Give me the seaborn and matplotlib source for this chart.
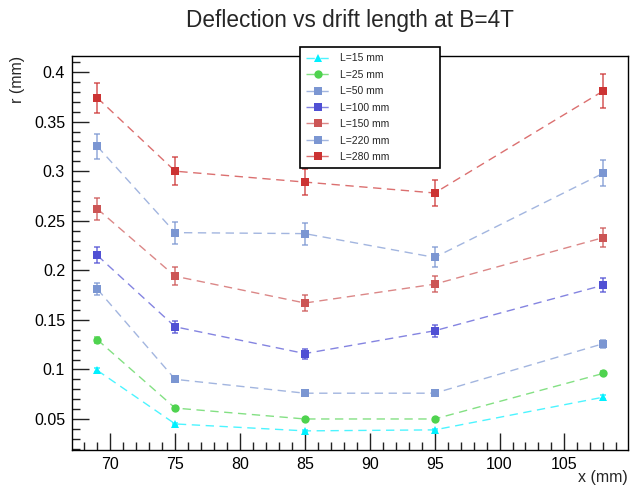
import numpy as np
import pandas as pd
import matplotlib
matplotlib.use("Agg")
import matplotlib.pyplot as plt
from matplotlib.ticker import MultipleLocator, FuncFormatter
import seaborn as sns

# Drift positions (mm)
x_pos = [69, 75, 85, 95, 108]

# Series labels
labels = ["L=15 mm", "L=25 mm", "L=50 mm", "L=100 mm", "L=150 mm", "L=220 mm", "L=280 mm"]

# Deflection r (mm) for each drift length
r_L15 = [0.099, 0.045, 0.038, 0.039, 0.072]
r_L25 = [0.130, 0.061, 0.050, 0.050, 0.096]
r_L50 = [0.181, 0.090, 0.076, 0.076, 0.126]
r_L100 = [0.215, 0.143, 0.116, 0.139, 0.185]
r_L150 = [0.262, 0.194, 0.167, 0.186, 0.233]
r_L220 = [0.325, 0.238, 0.237, 0.213, 0.298]
r_L280 = [0.374, 0.300, 0.289, 0.278, 0.381]

# Uncertainties on r (mm)
e_L15 = [0.002, 0.001, 0.001, 0.001, 0.002]
e_L25 = [0.003, 0.002, 0.001, 0.001, 0.002]
e_L50 = [0.006, 0.003, 0.002, 0.002, 0.004]
e_L100 = [0.008, 0.006, 0.005, 0.006, 0.007]
e_L150 = [0.011, 0.009, 0.008, 0.008, 0.010]
e_L220 = [0.013, 0.011, 0.011, 0.010, 0.013]
e_L280 = [0.015, 0.014, 0.013, 0.013, 0.017]

values = [r_L15, r_L25, r_L50, r_L100, r_L150, r_L220, r_L280]
errors = [e_L15, e_L25, e_L50, e_L100, e_L150, e_L220, e_L280]

colors = ["#00f0ff", "#4fd34f", "#7b96d2", "#5050d4", "#cc5555", "#7b96d2", "#cc3333"]
markers = ["^", "o", "s", "s", "s", "s", "s"]

rows = []
for lab, vals, errs in zip(labels, values, errors):
    for xv, yv, ev in zip(x_pos, vals, errs):
        rows.append({"x": xv, "r": yv, "err": ev, "series": lab})
df = pd.DataFrame(rows)

sns.set_style("white")
plt.rcParams["font.family"] = ["Liberation Sans", "DejaVu Sans"]

fig = plt.figure(figsize=(6.3, 4.86), dpi=100)
ax = fig.add_axes([72 / 630, 36 / 486, 556 / 630, 394 / 486])

palette = dict(zip(labels, colors))
mk = dict(zip(labels, markers))

for lab in labels:
    sub = df[df["series"] == lab]
    c = palette[lab]
    ax.errorbar(sub["x"], sub["r"], yerr=sub["err"], fmt="none", ecolor=c,
                elinewidth=1.2, capsize=2.2, capthick=1.2, alpha=0.75, zorder=2)
    sns.lineplot(data=sub, x="x", y="r", color=c, marker=mk[lab],
                 markersize=6 if mk[lab] != "s" else 5.5,
                 markeredgewidth=0, linewidth=1.0, dashes=False, linestyle=(0, (6, 4)),
                 ax=ax, label=lab, zorder=3, errorbar=None)

# Lighten the dashed connecting lines while keeping solid markers
for line in ax.get_lines():
    base = line.get_color()
    line.set_color(matplotlib.colors.to_rgba(base, 0.7))
    line.set_markerfacecolor(matplotlib.colors.to_rgba(base, 1.0))

ax.set_xlim(67.05, 109.9)
ax.set_ylim(0.0187, 0.4162)

ax.xaxis.set_major_locator(MultipleLocator(5))
ax.xaxis.set_minor_locator(MultipleLocator(1))
ax.yaxis.set_major_locator(MultipleLocator(0.05))
ax.yaxis.set_minor_locator(MultipleLocator(0.01))
ax.yaxis.set_major_formatter(FuncFormatter(lambda v, p: f"{v:.2f}".rstrip("0").rstrip(".")))

ax.tick_params(axis="both", which="major", direction="in", length=12, width=1, colors="#222222",
               labelsize=11.5, labelcolor="black", pad=5, top=False, right=False)
ax.tick_params(axis="both", which="minor", direction="in", length=6, width=1, colors="#222222",
               top=False, right=False)
ax.tick_params(axis="y", which="both", left=True)
ax.tick_params(axis="x", which="both", bottom=True)

for s in ax.spines.values():
    s.set_color("black")
    s.set_linewidth(1)

ax.set_xlabel("x (mm)", fontsize=11.5, ha="right", va="top")
ax.xaxis.set_label_coords(1.0, -0.052)
ax.set_ylabel("r (mm)", fontsize=11.5, ha="right")
ax.yaxis.set_label_coords(-0.084, 1.0)

fig.text(0.556, 0.958, "Deflection vs drift length at B=4T", ha="center", va="center", fontsize=16.3)

handles, labs = ax.get_legend_handles_labels()
leg = ax.legend(handles, labs, loc="upper left",
                bbox_to_anchor=(300 / 630, 321 / 486, 140 / 630, 118 / 486), mode="expand",
                bbox_transform=fig.transFigure, fontsize=7.5, frameon=True, fancybox=False,
                edgecolor="black", framealpha=1, borderpad=0.6, labelspacing=0.62,
                handlelength=2.2, handletextpad=1.0, borderaxespad=0)
leg.get_frame().set_linewidth(1.2)
leg.set_zorder(10)

fig.savefig("out.png", dpi=100)
